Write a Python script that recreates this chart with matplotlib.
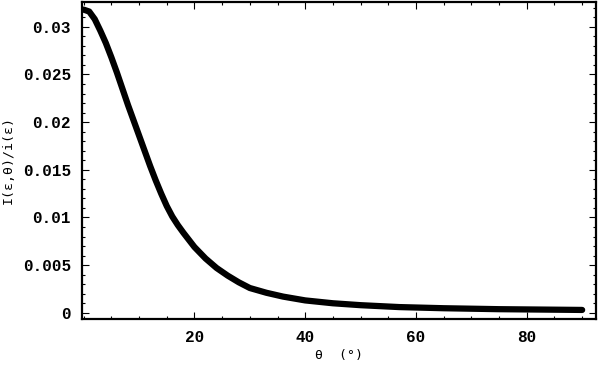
import numpy as np
import matplotlib.pyplot as plt
from matplotlib.ticker import MultipleLocator

# values
theta = [0, 1, 2, 3, 4, 5, 6, 7, 8, 9, 10, 11, 12, 13, 14, 15, 16, 17, 18, 20, 22, 24, 26, 28, 30,
         33, 36, 40, 45, 50, 57, 65, 75, 90]
ratio = [0.0318, 0.0316, 0.0308, 0.0296, 0.0283, 0.0268, 0.0252, 0.0235, 0.0218, 0.0202, 0.0186,
         0.0170, 0.0154, 0.0139, 0.0125, 0.0112, 0.0101, 0.0092, 0.0084, 0.0069, 0.0057, 0.0047,
         0.0039, 0.0032, 0.0026, 0.0021, 0.0017, 0.0013, 0.0010, 0.0008, 0.0006, 0.00048, 0.00038, 0.0003]

fig = plt.figure(figsize=(5.99, 3.67), dpi=100)
ax = fig.add_axes([82/599, 1 - 319/367, (596-82)/599, (319-2)/367])

ax.plot(theta, ratio, 'k-', linewidth=4.5, solid_capstyle='round')

ax.set_xlim(-0.3, 92.5)
ax.set_ylim(-0.00065, 0.0326)
ax.xaxis.set_major_locator(MultipleLocator(20))
ax.xaxis.set_minor_locator(MultipleLocator(5))
ax.yaxis.set_major_locator(MultipleLocator(0.005))
ax.yaxis.set_minor_locator(MultipleLocator(0.001))
ax.set_xticks([20, 40, 60, 80])
ax.set_yticks([0, 0.005, 0.01, 0.015, 0.02, 0.025, 0.03])
ax.set_yticklabels(['0', '0.005', '0.01', '0.015', '0.02', '0.025', '0.03'])

for s in ax.spines.values():
    s.set_linewidth(1.6)
ax.tick_params(which='both', direction='in', top=True, right=True, width=0.8)
ax.tick_params(which='major', length=5, pad=8)
ax.tick_params(which='minor', length=2.5)
for lab in ax.get_xticklabels() + ax.get_yticklabels():
    lab.set_fontfamily('Liberation Mono')
    lab.set_fontweight('bold')
    lab.set_fontsize(11.5)

ax.set_xlabel('θ  (°)', family='DejaVu Sans Mono', fontsize=9.5, labelpad=3)
ax.set_ylabel('I(ε,θ)/i(ε)', family='DejaVu Sans Mono', fontsize=9.5, labelpad=6)

fig.savefig('out.png', dpi=100)
